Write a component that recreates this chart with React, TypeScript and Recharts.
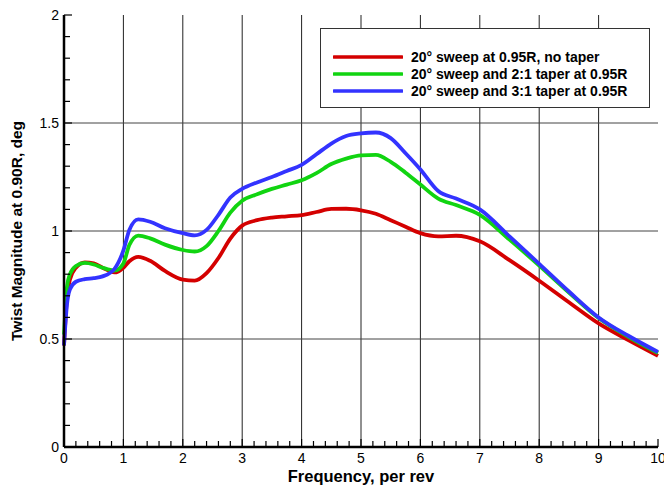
import { LineChart, Line, XAxis, YAxis, ReferenceLine, Legend } from 'recharts'

// frequency (per rev) and twist magnitude at 0.90R (deg) for each blade tip
const freq = [0, 0.05, 0.1, 0.2, 0.35, 0.5, 0.65, 0.85, 1.0, 1.1, 1.25, 1.45, 1.7, 2.0, 2.2, 2.4, 2.6, 2.8, 3.0, 3.25, 3.5, 3.75, 4.0, 4.25, 4.5, 4.75, 5.0, 5.25, 5.5, 5.75, 6.0, 6.3, 6.6, 7.0, 7.5, 8.0, 8.5, 9.0, 9.5, 10]
const noTaper = [0.47, 0.69, 0.775, 0.83, 0.855, 0.85, 0.83, 0.808, 0.83, 0.86, 0.88, 0.862, 0.815, 0.775, 0.77, 0.805, 0.875, 0.965, 1.025, 1.05, 1.062, 1.068, 1.074, 1.088, 1.102, 1.103, 1.096, 1.08, 1.05, 1.02, 0.99, 0.975, 0.978, 0.952, 0.865, 0.77, 0.67, 0.572, 0.495, 0.422]
const taper21 = [0.52, 0.74, 0.8, 0.838, 0.852, 0.845, 0.83, 0.817, 0.85, 0.935, 0.979, 0.966, 0.937, 0.912, 0.905, 0.93, 1.0, 1.085, 1.14, 1.17, 1.195, 1.215, 1.235, 1.268, 1.31, 1.335, 1.35, 1.352, 1.32, 1.27, 1.215, 1.15, 1.12, 1.075, 0.96, 0.84, 0.715, 0.597, 0.51, 0.435]
const taper31 = [0.47, 0.66, 0.73, 0.765, 0.777, 0.782, 0.79, 0.825, 0.91, 1.005, 1.054, 1.043, 1.013, 0.99, 0.98, 1.005, 1.075, 1.155, 1.195, 1.225, 1.25, 1.278, 1.306, 1.355, 1.405, 1.44, 1.452, 1.456, 1.43, 1.36, 1.285, 1.185, 1.15, 1.1, 0.975, 0.848, 0.72, 0.6, 0.515, 0.44]

const xTicks = [0, 0.2, 0.4, 0.6, 0.8, 1, 1.2, 1.4, 1.6, 1.8, 2, 2.2, 2.4, 2.6, 2.8, 3, 3.2, 3.4, 3.6, 3.8, 4, 4.2, 4.4, 4.6, 4.8, 5, 5.2, 5.4, 5.6, 5.8, 6, 6.2, 6.4, 6.6, 6.8, 7, 7.2, 7.4, 7.6, 7.8, 8, 8.2, 8.4, 8.6, 8.8, 9, 9.2, 9.4, 9.6, 9.8, 10]
const yTicks = [0, 0.1, 0.2, 0.3, 0.4, 0.5, 0.6, 0.7, 0.8, 0.9, 1, 1.1, 1.2, 1.3, 1.4, 1.5, 1.6, 1.7, 1.8, 1.9, 2]
const xGrid = [1, 2, 3, 4, 5, 6, 7, 8, 9]
const yGrid = [0.5, 1, 1.5]

const series = [
  { key: 'noTaper', name: '20° sweep at 0.95R, no taper', color: '#d40000' },
  { key: 'taper21', name: '20° sweep and 2:1 taper at 0.95R', color: '#11d411' },
  { key: 'taper31', name: '20° sweep and 3:1 taper at 0.95R', color: '#3333ff' },
]

const data = freq.map((f, i) => ({ f, noTaper: noTaper[i], taper21: taper21[i], taper31: taper31[i] }))

const FONT = '"Liberation Sans", Arial, sans-serif'
const isMajor = (v: number, step: number) => Math.abs(v / step - Math.round(v / step)) < 1e-6

function XTick({ x, y, payload }: any) {
  const v = payload.value
  const major = isMajor(v, 1)
  return (
    <g>
      <line x1={x} x2={x} y1={y} y2={y - (major ? 8 : 6)} stroke="#000" strokeWidth={1.2} />
      {major && (
        <text x={x} y={y + 16} textAnchor="middle" fontSize={14} fontFamily={FONT} fill="#000">
          {v}
        </text>
      )}
    </g>
  )
}

function YTick({ x, y, payload }: any) {
  const v = payload.value
  const major = isMajor(v, 0.5)
  return (
    <g>
      <line x1={x} x2={x + (major ? 8 : 6)} y1={y} y2={y} stroke="#000" strokeWidth={1.2} />
      {major && (
        <text x={x - 5} y={y + 5} textAnchor="end" fontSize={14} fontFamily={FONT} fill="#000">
          {v}
        </text>
      )}
    </g>
  )
}

// legend rows follow the series order
function LegendBox() {
  return (
    <div style={{ width: 330, height: 80, boxSizing: 'border-box', border: '1px solid #333', background: '#fff', paddingTop: 19, paddingLeft: 12 }}>
      {series.map((s) => (
        <div key={s.key} style={{ display: 'flex', alignItems: 'center', height: 17 }}>
          <svg width={70} height={6} style={{ marginRight: 8 }}>
            <line x1={1} x2={69} y1={3} y2={3} stroke={s.color} strokeWidth={3.5} strokeLinecap="round" />
          </svg>
          <span style={{ fontFamily: FONT, fontWeight: 'bold', fontSize: 14, color: '#000', whiteSpace: 'nowrap' }}>{s.name}</span>
        </div>
      ))}
    </div>
  )
}

export default function App() {
  return (
    <div style={{ position: 'absolute', left: 0, top: 0, background: '#fff' }}>
      <LineChart width={664} height={485} data={data} margin={{ top: 15, right: 6, left: 0, bottom: 0 }}>
        {xGrid.map((v) => (
          <ReferenceLine key={'x' + v} x={v} stroke="#222" strokeWidth={1} />
        ))}
        {yGrid.map((v) => (
          <ReferenceLine key={'y' + v} y={v} stroke="#444" strokeWidth={1} />
        ))}
        <XAxis
          dataKey="f"
          type="number"
          domain={[0, 10]}
          ticks={xTicks}
          interval={0}
          height={38}
          tickSize={0}
          tickMargin={0}
          tickLine={false}
          tick={<XTick />}
          axisLine={{ stroke: '#000', strokeWidth: 2.5 }}
          label={{ value: 'Frequency, per rev', position: 'insideBottom', offset: 3, style: { fontFamily: FONT, fontWeight: 'bold', fontSize: 16.5, fill: '#000' } }}
        />
        <XAxis xAxisId="top" orientation="top" type="number" domain={[0, 10]} height={0} tick={false} tickLine={false} axisLine={{ stroke: '#000', strokeWidth: 2 }} />
        <YAxis
          type="number"
          domain={[0, 2]}
          ticks={yTicks}
          interval={0}
          width={64}
          tickSize={0}
          tickMargin={0}
          tickLine={false}
          tick={<YTick />}
          axisLine={{ stroke: '#000', strokeWidth: 2.5 }}
          label={{ value: 'Twist Magnitude at 0.90R, deg', angle: -90, position: 'insideLeft', offset: 16, style: { fontFamily: FONT, fontWeight: 'bold', fontSize: 15.5, fill: '#000', textAnchor: 'middle' } }}
        />
        <YAxis yAxisId="right" orientation="right" type="number" domain={[0, 2]} width={0} tick={false} tickLine={false} axisLine={{ stroke: '#000', strokeWidth: 2 }} />
        {series.map((s) => (
          <Line
            key={s.key}
            type="monotone"
            dataKey={s.key}
            name={s.name}
            stroke={s.color}
            strokeWidth={3.8}
            dot={false}
            activeDot={false}
            isAnimationActive={false}
          />
        ))}
        <Legend
          layout="horizontal"
          align="center"
          verticalAlign="middle"
          content={<LegendBox />}
          wrapperStyle={{ top: 28, left: 320, width: 330 }}
        />
      </LineChart>
    </div>
  )
}
